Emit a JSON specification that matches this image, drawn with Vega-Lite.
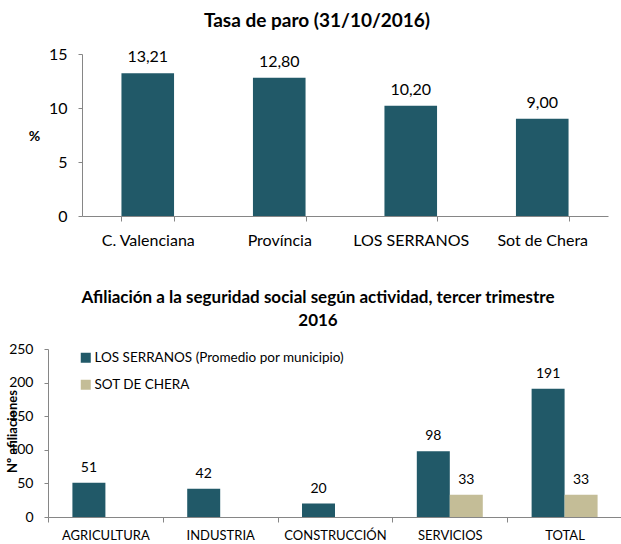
{
  "$schema": "https://vega.github.io/schema/vega-lite/v6.json",
  "padding": {"left": 4, "top": 12, "right": 0, "bottom": 0},
  "spacing": 41,
  "config": {
    "font": "Lato",
    "view": {"stroke": null},
    "axis": {"grid": false, "domainColor": "#868686", "tickColor": "#868686", "labelColor": "#000000", "titleColor": "#000000", "tickSize": 5, "titlePadding": 0},
    "locale": {"number": {"decimal": ",", "thousands": ".", "grouping": [3], "currency": ["", " €"]}}
  },
  "resolve": {"scale": {"color": "independent"}, "legend": {"color": "independent"}},
  "vconcat": [
    {
      "width": 526,
      "height": 162,
      "title": {"text": "Tasa de paro (31/10/2016)", "fontSize": 19, "fontWeight": "bold", "anchor": "middle", "frame": "group", "dx": -28, "offset": 15, "color": "#000000"},
      "data": {"values": [
        {"zona": "C. Valenciana", "tasa": 13.21},
        {"zona": "Província", "tasa": 12.80},
        {"zona": "LOS SERRANOS", "tasa": 10.20},
        {"zona": "Sot de Chera", "tasa": 9.00}
      ]},
      "encoding": {
        "x": {"field": "zona", "type": "nominal", "sort": null,
          "scale": {"paddingInner": 0.6, "paddingOuter": 0.3},
          "axis": {"title": null, "labelAngle": 0, "labelFontSize": 16, "labelPadding": 11, "tickBand": "extent"}},
        "y": {"field": "tasa", "type": "quantitative",
          "scale": {"domain": [0, 15], "nice": false},
          "axis": {"title": "%", "titleAngle": 0, "titleX": -48, "titleY": 82, "titleAlign": "center", "titleBaseline": "middle", "titleFontSize": 14, "titleFontWeight": "bold", "values": [0, 5, 10, 15], "labelFontSize": 16, "labelPadding": 11, "tickSize": 4, "minExtent": 30}}
      },
      "layer": [
        {"mark": {"type": "bar", "color": "#215968"}},
        {"mark": {"type": "text", "baseline": "middle", "dy": -16, "fontSize": 16, "color": "#000000"},
          "encoding": {"text": {"field": "tasa", "type": "quantitative", "format": ".2f"}}}
      ]
    },
    {
      "width": 540,
      "height": 168,
      "title": {"text": ["Afiliación a la seguridad social según actividad, tercer trimestre", "2016"], "fontSize": 17, "lineHeight": 23, "fontWeight": "bold", "anchor": "middle", "frame": "group", "dx": -34, "offset": 12, "color": "#000000"},
      "data": {"values": [
        {"actividad": "AGRICULTURA", "serie": "LOS SERRANOS (Promedio por municipio)", "afiliaciones": 51},
        {"actividad": "INDUSTRIA", "serie": "LOS SERRANOS (Promedio por municipio)", "afiliaciones": 42},
        {"actividad": "CONSTRUCCIÓN", "serie": "LOS SERRANOS (Promedio por municipio)", "afiliaciones": 20},
        {"actividad": "SERVICIOS", "serie": "LOS SERRANOS (Promedio por municipio)", "afiliaciones": 98},
        {"actividad": "SERVICIOS", "serie": "SOT DE CHERA", "afiliaciones": 33},
        {"actividad": "TOTAL", "serie": "LOS SERRANOS (Promedio por municipio)", "afiliaciones": 191},
        {"actividad": "TOTAL", "serie": "SOT DE CHERA", "afiliaciones": 33}
      ]},
      "encoding": {
        "x": {"field": "actividad", "type": "nominal", "sort": ["AGRICULTURA", "INDUSTRIA", "CONSTRUCCIÓN", "SERVICIOS", "TOTAL"],
          "scale": {"paddingInner": 0, "paddingOuter": 0, "range": [-34, 540]},
          "axis": {"title": null, "labelAngle": 0, "labelFontSize": 13, "labelPadding": 7, "tickBand": "extent"}},
        "xOffset": {"field": "serie", "type": "nominal", "sort": ["LOS SERRANOS (Promedio por municipio)", "SOT DE CHERA"],
          "scale": {"paddingInner": 0, "paddingOuter": 0.74}},
        "y": {"field": "afiliaciones", "type": "quantitative",
          "scale": {"domain": [0, 250], "nice": false},
          "axis": {"offset": 34, "title": "Nº afiliaciones", "titleAngle": -90, "titleX": -36, "titleY": 82, "titleAlign": "center", "titleBaseline": "middle", "titleFontSize": 13, "titleFontWeight": "bold", "values": [0, 50, 100, 150, 200, 250], "labelFontSize": 14, "labelPadding": 11, "tickSize": 4, "minExtent": 44}}
      },
      "layer": [
        {"mark": {"type": "bar"},
          "encoding": {"color": {"field": "serie", "type": "nominal", "sort": ["LOS SERRANOS (Promedio por municipio)", "SOT DE CHERA"],
            "scale": {"domain": ["LOS SERRANOS (Promedio por municipio)", "SOT DE CHERA"], "range": ["#215968", "#C4BD97"]},
            "legend": {"title": null, "orient": "none", "legendX": -3, "legendY": 2, "symbolType": "square", "symbolSize": 100, "symbolStrokeWidth": 0, "labelFontSize": 13.5, "labelColor": "#000000", "labelOffset": 2, "rowPadding": 12, "padding": 0, "labelLimit": 400}}}},
        {"mark": {"type": "text", "baseline": "middle", "dy": -15, "fontSize": 14, "color": "#000000"},
          "encoding": {"text": {"field": "afiliaciones", "type": "quantitative"}}}
      ]
    }
  ]
}
